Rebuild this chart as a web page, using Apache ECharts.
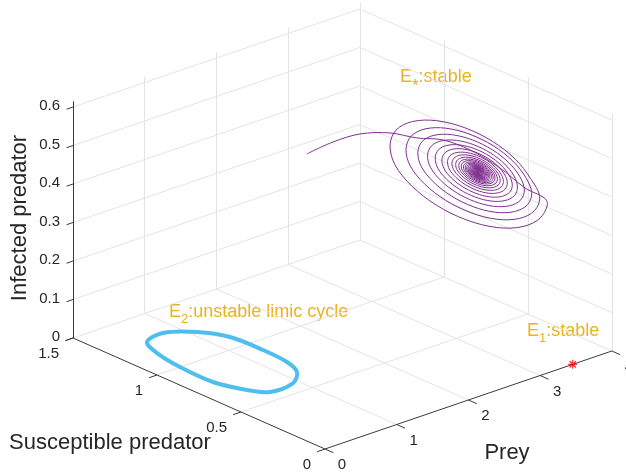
<!DOCTYPE html>
<html>
<head>
<meta charset="utf-8">
<script src="https://cdn.jsdelivr.net/npm/echarts@6/dist/echarts.min.js"></script>
<style>
  html, body { margin: 0; padding: 0; background: #fff; }
  #chart { width: 626px; height: 475px; }
</style>
</head>
<body>
<div id="chart"></div>
<script>
// axis ticks
const preyTicks = [0, 1, 2, 3, 4]
const suscTicks = [0, 0.5, 1, 1.5]
const infTicks = [0, 0.1, 0.2, 0.3, 0.4, 0.5, 0.6]
const infMax = 0.615

// equilibria [prey, susceptible, infected]
const e1Point = [3.455, 0, 0]
const eStar = [2.956, 0.351, 0.464]

// transient from the initial point towards the spiral (infected ~ const)
const entryPath = [
  [1.934, 0.933, 0.464], [2.352, 0.956, 0.464], [2.707, 0.947, 0.464],
  [2.960, 0.877, 0.464], [3.083, 0.768, 0.464], [3.252, 0.686, 0.464],
  [3.286, 0.539, 0.464], [3.200, 0.324, 0.464], [3.040, 0.107, 0.464]
]
// outer loop of the spiral, offsets from its centre [dPrey, dSusc]
const loopShape = [
  [0.125, -0.430], [-0.216, -0.545], [-0.530, -0.575], [-0.765, -0.518],
  [-0.880, -0.380], [-0.860, -0.185], [-0.710, 0.037], [-0.455, 0.255],
  [-0.125, 0.432], [0.220, 0.545], [0.530, 0.575], [0.765, 0.518],
  [0.880, 0.380], [0.860, 0.185], [0.710, -0.037], [0.455, -0.255]
]
// size of each turn relative to the outer one, and drift of the turn centre
const turnScale = [1, 0.853, 0.727, 0.619, 0.524, 0.45, 0.381, 0.327, 0.283, 0.245,
  0.214, 0.189, 0.166, 0.147, 0.131, 0.117, 0.104, 0.093, 0.083, 0.074,
  0.065, 0.058, 0.05, 0.043, 0.036, 0.029, 0.022, 0.015, 0.009, 0.004, 0]
const turnShiftPrey = [-0.098, -0.059, -0.041, -0.030, -0.024, -0.017, -0.013, -0.009,
  -0.006, -0.004, -0.002, -0.001, 0]
const turnShiftSusc = [0.032, 0.020, 0.014, 0.010, 0.008, 0.006, 0.004, 0.003,
  0.002, 0.001, 0.001, 0, 0]

// E2 limit cycle (infected = 0)
const cyclePrey = [0.510, 0.796, 1.081, 1.251, 1.278, 1.253, 1.153, 0.926, 0.584, 0.439, 0.315, 0.323, 0.392]
const cycleSusc = [1.277, 1.304, 1.223, 1.099, 0.915, 0.761, 0.659, 0.585, 0.577, 0.652, 0.801, 1.001, 1.167]

// view: projection of one unit of each axis on the screen
const origin = [325, 449]
const ex = [71.7, -24.5]
const ey = [-168, -74]
const ez = [0, -385]

function proj(p) {
  return [
    origin[0] + p[0] * ex[0] + p[1] * ey[0] + p[2] * ez[0],
    origin[1] + p[0] * ex[1] + p[1] * ey[1] + p[2] * ez[1]
  ]
}

const FONT = '"Liberation Sans", Arial, Helvetica, sans-serif'
const TXT = '#262626'
const GRID = '#e3e3e3'
const ORANGE = '#EDB120'

// grid lines on the three back planes
const gridSegs = []
const xMax = preyTicks[preyTicks.length - 1]
const yMax = suscTicks[suscTicks.length - 1]
preyTicks.forEach(x => {
  if (x > 0) gridSegs.push([[x, 0, 0], [x, yMax, 0]])
  if (x > 0) gridSegs.push([[x, yMax, 0], [x, yMax, infMax]])
})
suscTicks.forEach(y => {
  if (y > 0) gridSegs.push([[0, y, 0], [xMax, y, 0]])
  gridSegs.push([[xMax, y, 0], [xMax, y, infMax]])
})
infTicks.forEach(z => {
  if (z > 0) gridSegs.push([[0, yMax, z], [xMax, yMax, z]])
  if (z > 0) gridSegs.push([[xMax, 0, z], [xMax, yMax, z]])
})

const axisSegs = [
  [[0, 0, 0], [xMax, 0, 0]],
  [[0, 0, 0], [0, yMax, 0]],
  [[0, yMax, 0], [0, yMax, infMax]]
]
preyTicks.forEach(x => axisSegs.push([[x, 0, 0], [x, -0.05, 0]]))
suscTicks.forEach(y => axisSegs.push([[0, y, 0], [-0.11, y, 0]]))
infTicks.forEach(z => axisSegs.push([[0, yMax, z], [-0.09, yMax, z]]))

// spiral towards E*
const spiral = entryPath.slice()
for (let k = 0; k < turnScale.length - 1; k++) {
  for (let j = 0; j < loopShape.length; j++) {
    const f = j / loopShape.length
    const s = turnScale[k] + (turnScale[k + 1] - turnScale[k]) * f
    const sx = turnShiftPrey[Math.min(k, turnShiftPrey.length - 1)]
    const sy = turnShiftSusc[Math.min(k, turnShiftSusc.length - 1)]
    spiral.push([
      eStar[0] + sx + s * loopShape[j][0],
      eStar[1] + sy + s * loopShape[j][1],
      eStar[2]
    ])
  }
}
spiral.push(eStar)

const cycle = cyclePrey.map((x, i) => [x, cycleSusc[i], 0])

// text helpers
const measureCtx = document.createElement('canvas').getContext('2d')
function textW(str, size) {
  measureCtx.font = size + 'px ' + FONT
  return measureCtx.measureText(str).width
}
const graphics = []
function addText(str, x, y, size, align, color, rotation) {
  graphics.push({
    type: 'text',
    x: x, y: y,
    rotation: rotation || 0,
    style: {
      text: str, fill: color || TXT,
      font: size + 'px ' + FONT,
      align: align || 'center', verticalAlign: 'middle'
    },
    silent: true
  })
}
// label with subscript: baseline at y
function addSubLabel(main, sub, rest, x, y, subSize, subDrop) {
  const big = 18
  addText(main, x, y - 0.31 * big, big, 'left', ORANGE)
  let cx = x + textW(main, big)
  addText(sub, cx, y + subDrop - 0.31 * subSize, subSize, 'left', ORANGE)
  cx += textW(sub, subSize)
  addText(rest, cx, y - 0.31 * big, big, 'left', ORANGE)
}

preyTicks.forEach(x => {
  const p = proj([x, 0, 0])
  addText(String(x), p[0] + 17, p[1] + 16, 15, 'center')
})
suscTicks.forEach(y => {
  const p = proj([0, y, 0])
  addText(String(y), p[0] - 14, p[1] + 16, 15, 'right')
})
infTicks.forEach(z => {
  const p = proj([0, yMax, z])
  addText(String(z), p[0] - 13, p[1] - 1, 15, 'right')
})
addText('Prey', 507, 453, 22, 'center')
addText('Susceptible predator', 110, 443, 22, 'center')
addText('Infected predator', 20, 218, 22, 'center', TXT, Math.PI / 2)

addSubLabel('E', '*', ':stable', 400, 83, 17, 9)
addSubLabel('E', '2', ':unstable limic cycle', 169, 318, 13, 5)
addSubLabel('E', '1', ':stable', 527, 337, 13, 5)

function segData(segs) {
  return segs.map(s => ({ coords: [proj(s[0]), proj(s[1])] }))
}

// smooth curve through projected 3D points, drawn in the grid's coordinates
function curveSeries(name, pts, color, width, closed) {
  return {
    name: name,
    type: 'custom',
    coordinateSystem: 'cartesian2d',
    data: [[0, 0]],
    silent: true,
    clip: false,
    renderItem: function (params, api) {
      return {
        type: closed ? 'polygon' : 'polyline',
        shape: { points: pts.map(p => api.coord(proj(p))), smooth: 0.34 },
        style: { stroke: color, lineWidth: width, fill: null, lineJoin: 'round' }
      }
    }
  }
}

const chart = echarts.init(document.getElementById('chart'))
chart.setOption({
  animation: false,
  grid: { left: 0, right: 0, top: 0, bottom: 0 },
  xAxis: { type: 'value', min: 0, max: 626, show: false },
  yAxis: { type: 'value', min: 0, max: 475, inverse: true, show: false },
  graphic: graphics,
  series: [
    {
      type: 'lines',
      coordinateSystem: 'cartesian2d',
      data: segData(gridSegs),
      lineStyle: { color: GRID, width: 1, opacity: 1 },
      silent: true
    },
    {
      type: 'lines',
      coordinateSystem: 'cartesian2d',
      data: segData(axisSegs),
      lineStyle: { color: '#3a3a3a', width: 1, opacity: 1 },
      silent: true
    },
    curveSeries('E2', cycle, '#4DBEEE', 4, true),
    curveSeries('E*', spiral, '#7E2F8E', 1, false),
    {
      name: 'E1',
      type: 'scatter',
      data: [proj(e1Point)],
      symbol: 'path://M0,-5L0,5M-5,0L5,0M-3.5,-3.5L3.5,3.5M-3.5,3.5L3.5,-3.5',
      symbolSize: 9,
      itemStyle: { color: 'transparent', borderColor: '#FF0000', borderWidth: 1.3 }
    }
  ]
})
</script>
</body>
</html>
